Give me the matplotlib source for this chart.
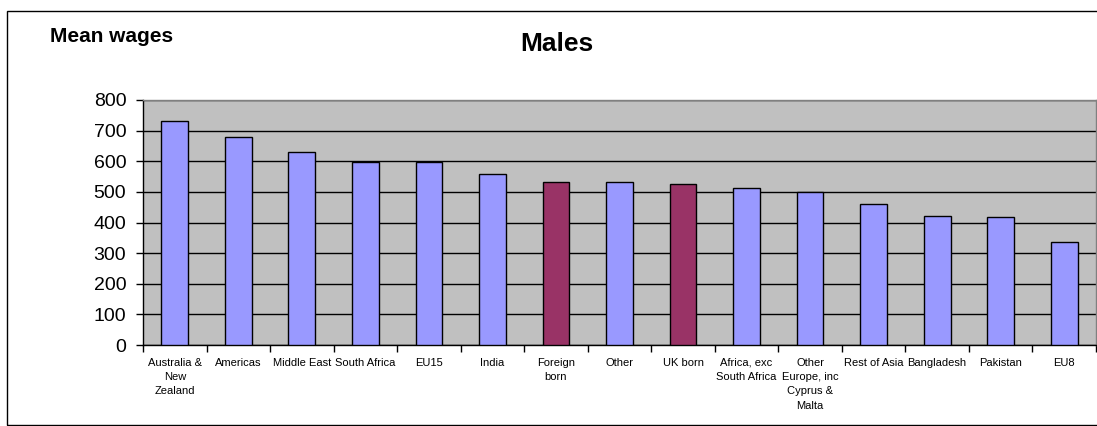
import matplotlib
matplotlib.use("Agg")
import matplotlib.pyplot as plt
import matplotlib.patches as mpatches
import numpy as np

categories = ["Australia &\nNew\nZealand", "Americas", "Middle East", "South Africa", "EU15",
              "India", "Foreign\nborn", "Other", "UK born", "Africa, exc\nSouth Africa",
              "Other\nEurope, inc\nCyprus &\nMalta", "Rest of Asia", "Bangladesh", "Pakistan", "EU8"]
values = [732, 678, 630, 598, 598, 559, 532, 532, 526, 514, 501, 461, 422, 417, 335]
highlight = ["Foreign\nborn", "UK born"]
yticks = [0, 100, 200, 300, 400, 500, 600, 700, 800]

plt.rcParams['font.family'] = ['Liberation Sans', 'DejaVu Sans']

W, H = 1097, 426
fig = plt.figure(figsize=(W / 100, H / 100), dpi=100)
ax = fig.add_axes([143 / W, (H - 345) / H, (1096 - 143) / W, 245 / H])
ax.set_facecolor('#C0C0C0')

x = np.arange(len(categories))
colors = ['#993366' if c in highlight else '#9999FF' for c in categories]
ax.bar(x, values, width=0.42, color=colors, edgecolor='black', linewidth=1, zorder=3)

ax.set_xlim(-0.5, len(categories) - 0.5)
ax.set_ylim(0, 800)
ax.set_yticks(yticks)
ax.set_yticklabels([str(v) for v in yticks], fontsize=14)
ax.yaxis.grid(True, color='black', linewidth=1, zorder=1)
ax.set_axisbelow(True)
ax.tick_params(axis='y', direction='out', length=5, width=1, pad=7, colors='black')

ax.set_xticks(np.arange(-0.5, len(categories), 1.0))
ax.set_xticklabels([])
ax.tick_params(axis='x', which='major', direction='out', length=5, width=1)
ax.set_xticks(x, minor=True)
ax.set_xticklabels(categories, minor=True, fontsize=8, linespacing=1.55)
ax.tick_params(axis='x', which='minor', length=0, pad=9)

for s in ['left', 'bottom']:
    ax.spines[s].set_color('black')
    ax.spines[s].set_linewidth(1)
for s in ['top', 'right']:
    ax.spines[s].set_color('#808080')
    ax.spines[s].set_linewidth(1)

fig.text(557 / W, 1 - 44 / H, "Males", fontsize=19, fontweight='bold', ha='center', va='center')
fig.text(50 / W, 1 - 37 / H, "Mean wages", fontsize=15, fontweight='bold', ha='left', va='center')

border = mpatches.Rectangle((7 / W, 1 / H), 2, (425 - 11) / H, transform=fig.transFigure,
                            fill=False, edgecolor='black', linewidth=1)
fig.patches.append(border)

fig.savefig("out.png", dpi=100)
